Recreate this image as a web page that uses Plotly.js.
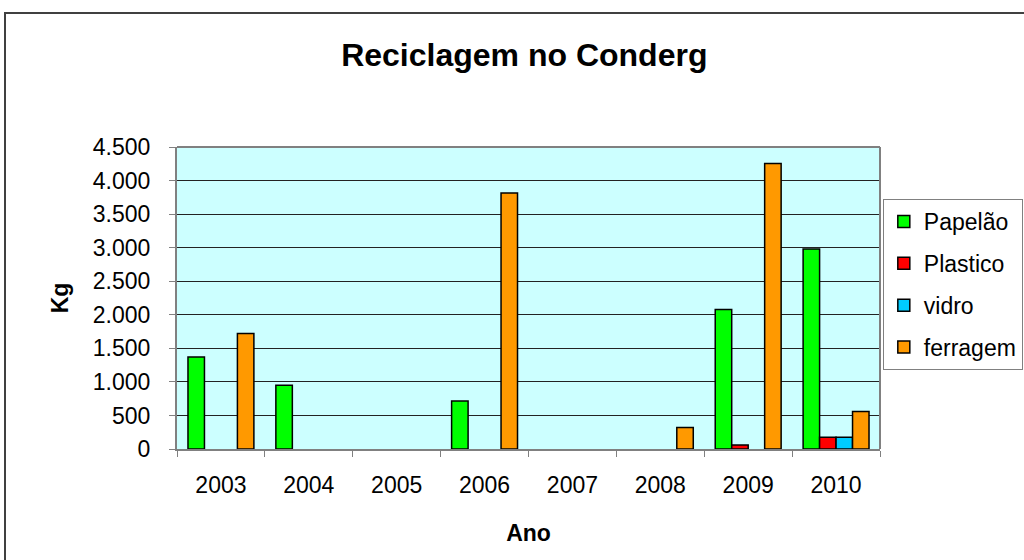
<!DOCTYPE html>
<html>
<head>
<meta charset="utf-8">
<script src="https://cdn.plot.ly/plotly-3.0.1.min.js"></script>
<style>
  html, body { margin: 0; padding: 0; background: #fff; }
  #wrap { position: relative; width: 1024px; height: 560px; overflow: hidden; }
  #chart { position: absolute; left: 0; top: 0; width: 1024px; height: 560px; }
  #frame { position: absolute; left: 4px; top: 12px; width: 1040px; height: 600px;
           border: 2px solid #404040; box-sizing: border-box; pointer-events: none; }
</style>
</head>
<body>
<div id="wrap">
  <div id="chart"></div>
  <div id="frame"></div>
</div>
<script>
const years = ['2003', '2004', '2005', '2006', '2007', '2008', '2009', '2010'];
const papelao  = [1370, 950, null, 715, null, null, 2080, 2980];
const plastico = [null, null, null, null, null, null, 60, 175];
const vidro    = [null, null, null, null, null, null, null, 175];
const ferragem = [1720, null, null, 3815, null, 320, 4255, 560];
const yTicks = [0, 500, 1000, 1500, 2000, 2500, 3000, 3500, 4000, 4500];

const seriesNames = ['Papelão', 'Plastico', 'vidro', 'ferragem'];
const seriesData = [papelao, plastico, vidro, ferragem];
const seriesColors = ['#00FF00', '#FF0000', '#00CCFF', '#FF9900'];

const font = '"Liberation Sans", Arial, sans-serif';

const traces = seriesNames.map((n, i) => ({
  type: 'bar',
  name: n,
  x: years,
  y: seriesData[i],
  legendgroup: 'g' + i,
  marker: { color: seriesColors[i], line: { color: '#000000', width: 1.5 } },
  hoverinfo: 'x+y+name'
}));

const layout = {
  width: 1024,
  height: 560,
  margin: { l: 177, r: 144, t: 147, b: 111, autoexpand: false },
  paper_bgcolor: 'rgba(0,0,0,0)',
  plot_bgcolor: '#CCFFFF',
  separators: ',.',
  barmode: 'group',
  bargap: 0.25,
  bargroupgap: 0,
  font: { family: font, color: '#000', size: 22 },
  title: {
    text: '<b>Reciclagem no Conderg</b>',
    font: { family: font, size: 32, color: '#000' },
    x: 0.512, xanchor: 'center',
    y: 1 - 55 / 560, yanchor: 'middle',
    xref: 'container', yref: 'container'
  },
  xaxis: {
    type: 'category',
    tickson: 'boundaries',
    ticks: 'outside',
    ticklen: 6,
    tickcolor: '#808080',
    showline: true,
    linecolor: '#808080',
    linewidth: 2,
    showgrid: false,
    ticklabelstandoff: 14,
    tickfont: { family: font, size: 23, color: '#000' },
    title: { text: '<b>Ano</b>', font: { family: font, size: 23, color: '#000' }, standoff: 28 }
  },
  yaxis: {
    range: [0, 4500],
    tickvals: yTicks,
    tickformat: ',d',
    ticks: 'outside',
    ticklen: 6,
    tickcolor: '#808080',
    showline: true,
    linecolor: '#808080',
    linewidth: 2,
    showgrid: true,
    gridcolor: '#222222',
    gridwidth: 1,
    zeroline: false,
    ticklabelstandoff: 14,
    tickfont: { family: font, size: 23, color: '#000' },
    title: { text: '<b>Kg</b>', font: { family: font, size: 23, color: '#000' }, standoff: 18 }
  },
  showlegend: true,
  legend: {
    x: 1.004, xanchor: 'left',
    y: 0.828, yanchor: 'top',
    bgcolor: '#ffffff',
    bordercolor: '#808080',
    borderwidth: 1,
    font: { family: font, size: 23, color: '#000' },
    tracegroupgap: 9,
    traceorder: 'grouped',
    itemwidth: 30
  },
  shapes: [
    { type: 'line', xref: 'paper', yref: 'paper', x0: 0, x1: 1, y0: 1, y1: 1,
      line: { color: '#808080', width: 2 } },
    { type: 'line', xref: 'paper', yref: 'paper', x0: 1, x1: 1, y0: 0, y1: 1,
      line: { color: '#808080', width: 2 } }
  ]
};

Plotly.newPlot('chart', traces, layout, { displayModeBar: false, staticPlot: true });
</script>
</body>
</html>
